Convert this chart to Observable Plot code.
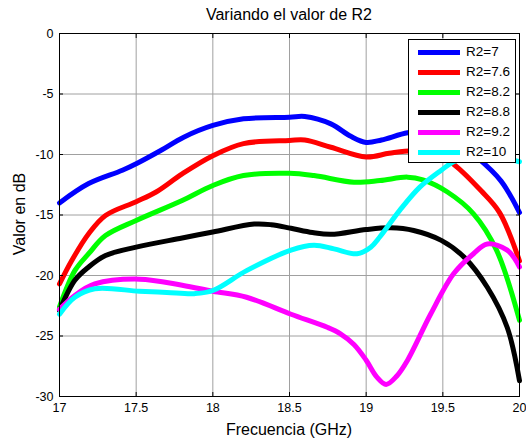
<!DOCTYPE html>
<html><head><meta charset="utf-8">
<script src="https://cdn.jsdelivr.net/npm/d3@7"></script>
<script src="https://cdn.jsdelivr.net/npm/@observablehq/plot@0.6"></script>
<style>
body{margin:0;background:#fff;font-family:"Liberation Sans",Arial,sans-serif;color:#000;}
#wrap{position:relative;width:526px;height:440px;overflow:hidden;}
.lbl{position:absolute;white-space:nowrap;font-size:16px;}
#title{left:289px;top:15px;transform:translate(-50%,-50%);}
#xlab{left:289px;top:430px;transform:translate(-50%,-50%);}
#ylab{left:20px;top:214px;transform:translate(-50%,-50%) rotate(-90deg);}
#legend{position:absolute;left:408px;top:39px;width:106px;height:122px;border:1px solid #000;background:#fff;}
.row{position:absolute;left:0;height:20px;width:106px;}
.sw{position:absolute;left:9px;top:8px;width:42px;height:5px;}
.tx{position:absolute;left:57px;top:1px;font-size:13.5px;line-height:18px;}
</style></head>
<body>
<div id="wrap">
  <div id="chart"></div>
  <div id="title" class="lbl">Variando el valor de R2</div>
  <div id="xlab" class="lbl">Frecuencia (GHz)</div>
  <div id="ylab" class="lbl">Valor en dB</div>
  <div id="legend"></div>
</div>
<script>
const seriesNames = ["R2=7", "R2=7.6", "R2=8.2", "R2=8.8", "R2=9.2", "R2=10"];
const seriesColors = ["#0000ff", "#ff0000", "#00ff00", "#000000", "#ff00ff", "#00ffff"];
const xTicks = [17, 17.5, 18, 18.5, 19, 19.5, 20];
const yTicks = [-30, -25, -20, -15, -10, -5, 0];

const freq7 = [17.0, 17.19, 17.41, 17.51, 17.66, 17.81, 18.0, 18.2, 18.5, 18.6, 18.77, 18.9, 19.0, 19.1, 19.27, 19.4, 19.55, 19.72, 19.88, 20.0];
const db7   = [-14.0, -12.4, -11.3, -10.7, -9.67, -8.57, -7.6, -7.05, -6.92, -6.86, -7.47, -8.5, -9.0, -8.8, -8.2, -8.1, -8.6, -10.2, -12.2, -14.8];

const freq76 = [17.0, 17.08, 17.19, 17.3, 17.5, 17.63, 17.8, 18.0, 18.2, 18.5, 18.6, 18.77, 19.0, 19.15, 19.3, 19.45, 19.57, 19.75, 19.87, 20.0];
const db76   = [-20.7, -18.76, -16.55, -15.04, -13.9, -13.1, -11.6, -10.1, -9.1, -8.84, -8.8, -9.4, -10.2, -9.9, -9.7, -9.9, -10.8, -13.0, -14.8, -18.8];

const freq82 = [17.0, 17.1, 17.19, 17.3, 17.5, 17.8, 18.0, 18.2, 18.5, 18.66, 18.92, 19.09, 19.27, 19.37, 19.53, 19.7, 19.85, 20.0];
const db82   = [-22.6, -19.6, -18.2, -16.7, -15.45, -13.8, -12.56, -11.74, -11.55, -11.74, -12.29, -12.15, -11.87, -12.1, -13.1, -14.9, -17.9, -23.7];

const freq88 = [17.0, 17.1, 17.19, 17.3, 17.5, 17.8, 18.0, 18.27, 18.38, 18.51, 18.65, 18.77, 19.0, 19.16, 19.31, 19.49, 19.64, 19.79, 19.92, 20.0];
const db88   = [-22.9, -20.4, -19.3, -18.35, -17.66, -16.9, -16.4, -15.75, -15.8, -16.1, -16.45, -16.6, -16.2, -16.06, -16.28, -17.1, -18.5, -20.97, -24.3, -28.7];

const freq92 = [17.0, 17.1, 17.23, 17.52, 17.8, 18.0, 18.22, 18.51, 18.75, 18.83, 18.92, 19.0, 19.07, 19.13, 19.2, 19.27, 19.42, 19.57, 19.7, 19.79, 19.92, 20.0];
const db92   = [-22.8, -21.65, -20.7, -20.3, -20.8, -21.3, -21.8, -23.2, -24.3, -24.8, -25.7, -27.0, -28.4, -29.0, -28.3, -27.0, -23.2, -19.86, -18.2, -17.4, -17.9, -19.3];

const freq10 = [17.0, 17.1, 17.23, 17.52, 17.7, 17.88, 18.0, 18.22, 18.51, 18.66, 18.79, 18.94, 19.03, 19.09, 19.22, 19.35, 19.49, 19.57, 19.7, 19.85, 20.0];
const db10   = [-23.2, -21.8, -21.1, -21.3, -21.4, -21.5, -21.24, -19.6, -17.9, -17.5, -17.8, -18.2, -17.66, -16.8, -14.6, -12.7, -11.3, -10.6, -10.1, -10.2, -10.6];

const freqs = [freq7, freq76, freq82, freq88, freq92, freq10];
const dbs = [db7, db76, db82, db88, db92, db10];

const rows = [];
seriesNames.forEach((name, i) => {
  freqs[i].forEach((f, j) => rows.push({name, color: seriesColors[i], f, db: dbs[i][j]}));
});

const chart = Plot.plot({
  width: 526, height: 440,
  marginLeft: 59, marginRight: 7, marginTop: 33, marginBottom: 44,
  style: {fontFamily: "'Liberation Sans', Arial, sans-serif", fontSize: "12.5px", color: "#000", background: "#fff"},
  x: {domain: [17, 20], label: null},
  y: {domain: [-30, 0], label: null},
  marks: [
    Plot.gridX(xTicks, {stroke: "#a0a0a0", strokeOpacity: 1}),
    Plot.gridY(yTicks, {stroke: "#a0a0a0", strokeOpacity: 1}),
    Plot.line(rows, {x: "f", y: "db", z: "name", stroke: "color", strokeWidth: 5, curve: "catmull-rom", strokeLinejoin: "round"}),
    Plot.frame({stroke: "#000"}),
    Plot.axisX(xTicks, {anchor: "bottom", tickSize: -4, tickPadding: 11, tickFormat: d => String(d), label: null}),
    Plot.axisX(xTicks, {anchor: "top", tickSize: -4, tickFormat: () => "", label: null}),
    Plot.axisY(yTicks, {anchor: "left", tickSize: -4, tickPadding: 10, tickFormat: d => String(d), label: null}),
    Plot.axisY(yTicks, {anchor: "right", tickSize: -4, tickFormat: () => "", label: null})
  ]
});
document.getElementById("chart").appendChild(chart);

const leg = document.getElementById("legend");
seriesNames.forEach((name, i) => {
  const r = document.createElement("div");
  r.className = "row";
  r.style.top = (2 + i * 20) + "px";
  r.innerHTML = `<div class="sw" style="background:${seriesColors[i]}"></div><div class="tx">${name}</div>`;
  leg.appendChild(r);
});
</script>
</body></html>
